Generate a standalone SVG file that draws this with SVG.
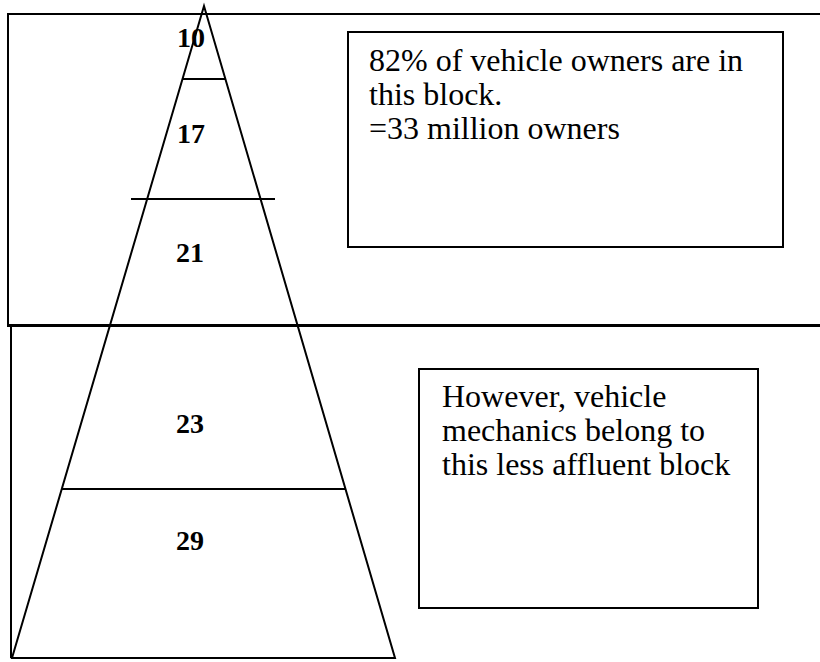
<svg xmlns="http://www.w3.org/2000/svg" width="820" height="662" viewBox="0 0 820 662">
<style>
.ln{stroke:#000;stroke-width:2;fill:none}
.mid{stroke:#000;stroke-width:3;fill:none}
.box{stroke:#000;stroke-width:2;fill:#fff}
.num{font-family:"Liberation Serif","Times New Roman",serif;font-weight:bold;font-size:28px;fill:#000}
.txt{font-family:"Liberation Serif","Times New Roman",serif;font-size:32px;fill:#000}
</style>
<rect width="820" height="662" fill="#fff"/>
<g id="upper-block">
<path class="ln" d="M8,325 V14 H822"/>
</g>
<g id="lower-block">
<path class="ln" d="M11,658 V327"/>
<path class="mid" d="M7,325.5 H822"/>
</g>
<g id="pyramid">
<polygon class="ln" points="204,6 12,658 395,658"/>
<line class="ln" x1="182" y1="79" x2="226" y2="79"/>
<line class="ln" x1="131" y1="199" x2="275" y2="199"/>
<line class="ln" x1="61" y1="489" x2="346" y2="489"/>
</g>
<g id="labels">
<text class="num" x="177" y="47">10</text>
<text class="num" x="177" y="143">17</text>
<text class="num" x="176" y="262">21</text>
<text class="num" x="176" y="433">23</text>
<text class="num" x="176" y="550">29</text>
</g>
<g id="note-owners">
<rect class="box" x="348" y="32" width="435" height="215"/>
<text class="txt" x="369" y="71">82% of vehicle owners are in</text>
<text class="txt" x="369" y="105">this block.</text>
<text class="txt" x="369" y="139">=33 million owners</text>
</g>
<g id="note-mechanics">
<rect class="box" x="419" y="369" width="339" height="239"/>
<text class="txt" x="442" y="407">However, vehicle</text>
<text class="txt" x="442" y="441">mechanics belong to</text>
<text class="txt" x="442" y="475">this less affluent block</text>
</g>
</svg>
